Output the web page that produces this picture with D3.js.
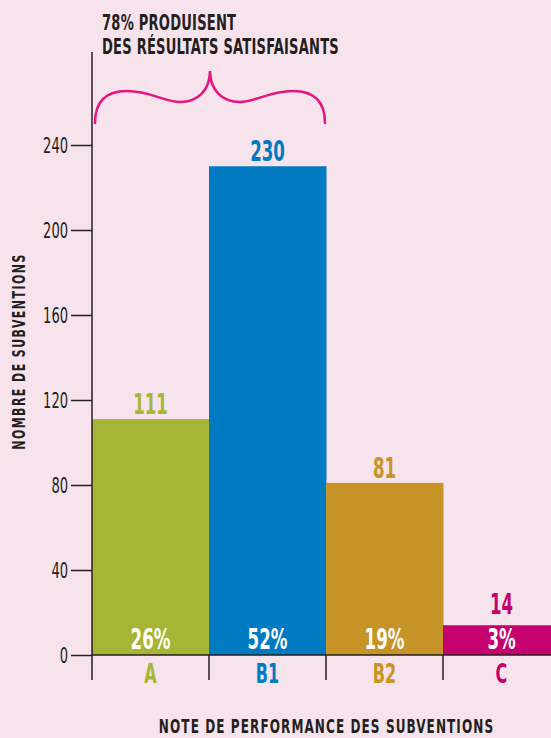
<!DOCTYPE html>
<html>
<head>
<meta charset="utf-8">
<script src="https://cdn.jsdelivr.net/npm/d3@7"></script>
<style>
  html, body { margin: 0; padding: 0; background: #f7e3ec; }
  svg { display: block; }
  text { font-family: "DejaVu Sans Condensed", "DejaVu Sans", sans-serif; font-stretch: condensed; }
</style>
</head>
<body>
<script>
// Grant performance ratings
const categories = ["A", "B1", "B2", "C"];
const counts = [111, 230, 81, 14];
const shares = ["26%", "52%", "19%", "3%"];
const colors = ["#a6b536", "#007ac1", "#c69327", "#c5006f"];
const yTicks = [0, 40, 80, 120, 160, 200, 240];
const titleLines = ["78% PRODUISENT", "DES RÉSULTATS SATISFAISANTS"];
const yTitle = "NOMBRE DE SUBVENTIONS";
const xTitle = "NOTE DE PERFORMANCE DES SUBVENTIONS";

const W = 551, H = 738;
const ink = "#231f20";
const braceColor = "#e5177e";
const SX = 0.66; // horizontal squeeze for a narrow display face

const svg = d3.select("body").append("svg").attr("width", W).attr("height", H);
svg.append("rect").attr("width", W).attr("height", H).attr("fill", "#f7e3ec");

const x0 = 92, x1 = 560;
const x = d3.scaleBand().domain(categories).range([x0, x1]).paddingInner(0).paddingOuter(0);
const y = d3.scaleLinear().domain([0, 240]).range([655, 145]);
const mid = d => x(d) + x.bandwidth() / 2;
const pctBaseline = 649;

// place narrow text: x is divided by the squeeze so the anchor lands at px
function squeezed(sel, px, py, sx = SX) {
  sel.attr("transform", `scale(${sx},1)`)
     .attr("x", (d, i) => (typeof px === "function" ? px(d, i) : px) / sx)
     .attr("y", py);
  return sel;
}

// bars
svg.selectAll("rect.bar").data(categories).join("rect")
  .attr("class", "bar")
  .attr("x", d => x(d))
  .attr("width", x.bandwidth() + 0.5)
  .attr("y", (d, i) => y(counts[i]))
  .attr("height", (d, i) => y(0) - y(counts[i]))
  .attr("fill", (d, i) => colors[i]);

// y axis
const yAxis = d3.axisLeft(y).tickValues(yTicks).tickSize(21).tickPadding(3);
const gy = svg.append("g").attr("transform", `translate(${x0},0)`).call(yAxis);
gy.select(".domain").remove();
gy.selectAll(".tick line").attr("stroke", ink).attr("stroke-width", 1.5);
gy.selectAll(".tick text")
  .attr("fill", ink).attr("font-size", 22)
  .attr("font-family", "DejaVu Sans Condensed, DejaVu Sans, sans-serif")
  .attr("transform", `scale(${SX},1)`)
  .attr("x", -24 / SX)
  .attr("dy", "0.36em");
svg.append("line").attr("x1", x0).attr("x2", x0).attr("y1", 52).attr("y2", 680)
  .attr("stroke", ink).attr("stroke-width", 1.5);

// x axis baseline and category separators
svg.append("line").attr("x1", x0).attr("x2", W).attr("y1", y(0)).attr("y2", y(0))
  .attr("stroke", ink).attr("stroke-width", 1.5);
svg.selectAll("line.sep").data(categories.slice(1)).join("line")
  .attr("class", "sep")
  .attr("x1", d => x(d)).attr("x2", d => x(d))
  .attr("y1", y(0)).attr("y2", 680)
  .attr("stroke", ink).attr("stroke-width", 1.5);

// category labels
svg.selectAll("text.cat").data(categories).join("text")
  .attr("class", "cat")
  .call(squeezed, mid, 683)
  .attr("text-anchor", "middle")
  .attr("font-size", 27).attr("font-weight", "bold")
  .attr("fill", (d, i) => colors[i])
  .text(d => d);

// value labels above bars, kept clear of the share labels on short bars
svg.selectAll("text.val").data(categories).join("text")
  .attr("class", "val")
  .call(squeezed, mid, (d, i) => Math.min(y(counts[i]) - 5, pctBaseline - 35))
  .attr("text-anchor", "middle")
  .attr("font-size", 28).attr("font-weight", "bold")
  .attr("fill", (d, i) => colors[i])
  .text((d, i) => counts[i]);

// share labels inside bars
svg.selectAll("text.pct").data(categories).join("text")
  .attr("class", "pct")
  .call(squeezed, mid, pctBaseline)
  .attr("text-anchor", "middle")
  .attr("font-size", 28).attr("font-weight", "bold")
  .attr("fill", "#ffffff")
  .text((d, i) => shares[i]);

// brace over A and B1
const bl = x("A") + 3, br = x("B1") + x.bandwidth() - 1, bm = (bl + br) / 2;
const p = d3.path();
p.moveTo(bl, 123);
p.bezierCurveTo(bl, 100, bl + 13, 91, bl + 32, 91);
p.bezierCurveTo(bl + 55, 91, bl + 70, 102, bm - 30, 102);
p.bezierCurveTo(bm - 12, 102, bm, 90, bm, 71);
p.bezierCurveTo(bm, 90, bm + 12, 102, bm + 30, 102);
p.bezierCurveTo(br - 70, 102, br - 55, 91, br - 32, 91);
p.bezierCurveTo(br - 13, 91, br, 100, br, 123);
svg.append("path").attr("d", p.toString()).attr("fill", "none")
  .attr("stroke", braceColor).attr("stroke-width", 2.6).attr("stroke-linecap", "round");

// headline
const headSX = 0.71;
svg.selectAll("text.head").data(titleLines).join("text")
  .attr("class", "head")
  .call(squeezed, 102, (d, i) => 30.5 + i * 24, headSX)
  .attr("font-size", 20.5).attr("font-weight", "bold")
  .attr("fill", ink).attr("letter-spacing", 0.3)
  .text(d => d);

// axis titles
svg.append("g").attr("transform", "translate(25,351.5) rotate(-90)")
  .append("text")
  .attr("transform", "scale(0.72,1)")
  .attr("x", 0).attr("y", 0)
  .attr("text-anchor", "middle")
  .attr("font-size", 17).attr("font-weight", "bold")
  .attr("fill", ink).attr("letter-spacing", 2)
  .text(yTitle);

svg.append("text")
  .call(squeezed, 326.5, 733, 0.67)
  .attr("text-anchor", "middle")
  .attr("font-size", 20).attr("font-weight", "bold")
  .attr("fill", ink).attr("letter-spacing", 1.6)
  .text(xTitle);
</script>
</body>
</html>
